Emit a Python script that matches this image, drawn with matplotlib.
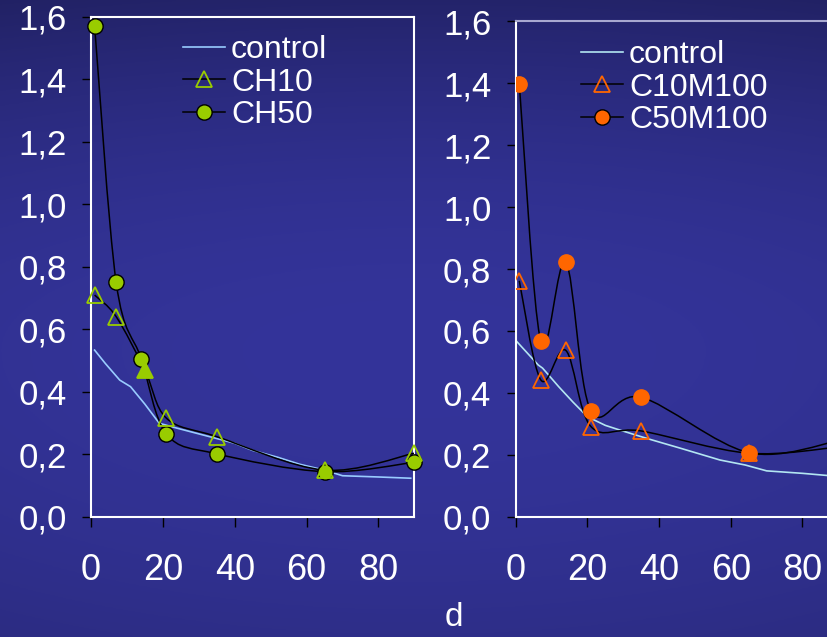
import numpy as np
import matplotlib.pyplot as plt
from matplotlib.path import Path
from matplotlib.patches import PathPatch
from matplotlib.lines import Line2D

plt.rcParams['font.family'] = ['Liberation Sans', 'DejaVu Sans']

# Data
days = [1, 7, 14, 21, 35, 65, 90]

ctrl_left_x = [1, 4, 8, 11, 15, 19, 24, 30, 35, 40, 45, 52, 58, 65, 70, 80, 89]
ctrl_left_y = [0.533, 0.49, 0.437, 0.416, 0.36, 0.299, 0.283, 0.265, 0.25, 0.235, 0.212, 0.19, 0.168, 0.149, 0.131, 0.127, 0.123]

ch10_x = [1, 7, 15, 21, 35, 65, 90]
ch10_y = [0.709, 0.64, 0.469, 0.315, 0.256, 0.149, 0.203]
ch10_filled = [False, False, True, False, False, False, False]
ch50_y = [1.571, 0.750, 0.505, 0.265, 0.201, 0.144, 0.174]

ctrl_right_x = [0.3, 6.3, 7.5, 12, 16, 20, 25, 29, 34, 38, 46, 57, 64, 70, 80, 90]
ctrl_right_y = [0.566, 0.490, 0.48, 0.42, 0.37, 0.323, 0.295, 0.28, 0.262, 0.248, 0.221, 0.183, 0.167, 0.148, 0.140, 0.130]

c10m100_y = [0.762, 0.442, 0.537, 0.291, 0.277, 0.205, 0.225]
c50m100_y = [1.399, 0.566, 0.822, 0.342, 0.386, 0.207, 0.245]

ytick_vals = [0.0, 0.2, 0.4, 0.6, 0.8, 1.0, 1.2, 1.4, 1.6]
ytick_labels = ["0,0", "0,2", "0,4", "0,6", "0,8", "1,0", "1,2", "1,4", "1,6"]
xtick_vals = [0, 20, 40, 60, 80]

GREEN = "#99cc00"
ORANGE = "#ff6600"
FS_Y = 25
FS_X = 26
FS_LEG = 23


def smooth_path(xs, ys):
    # Excel-like smoothed line: cubic bezier through the points
    p = np.column_stack([xs, ys]).astype(float)
    n = len(p)
    verts = [p[0]]
    codes = [Path.MOVETO]
    for i in range(n - 1):
        p0 = p[i - 1] if i > 0 else p[i]
        p3 = p[i + 2] if i + 2 < n else p[i + 1]
        c1 = p[i] + (p[i + 1] - p0) / 6.0
        c2 = p[i + 1] - (p3 - p[i]) / 6.0
        verts += [c1, c2, p[i + 1]]
        codes += [Path.CURVE4] * 3
    return Path(verts, codes)


def style_axes(ax, top_color):
    ax.set_facecolor("none")
    ax.set_xlim(0, 90)
    ax.set_ylim(0, 1.6)
    for s in ["left", "bottom", "right"]:
        ax.spines[s].set_color("white")
        ax.spines[s].set_linewidth(1.5)
    ax.spines["top"].set_color(top_color)
    ax.spines["top"].set_linewidth(1.5)
    ax.set_yticks(ytick_vals)
    ax.set_yticklabels(ytick_labels)
    ax.set_xticks(xtick_vals)
    ax.tick_params(axis="y", colors="black", labelcolor="white", labelsize=FS_Y,
                   length=6.5, width=1.0, pad=11)
    ax.tick_params(axis="x", colors="black", labelcolor="white", labelsize=FS_X,
                   length=7, width=1.0, pad=19)


fig = plt.figure(figsize=(8.28, 6.37), dpi=100)

# background gradient
bg = fig.add_axes([0, 0, 1, 1], zorder=-10)
yy, xx = np.mgrid[0:1:300j, 0:1:300j]
f = np.where(yy < 0.55, 1 - 2.7 * (yy - 0.55) ** 2, 1 - 1.5 * (yy - 0.55) ** 2)
f = f - 0.4 * (xx - 0.5) ** 2
dark = np.array([32, 32, 96]) / 255
light = np.array([52, 52, 154]) / 255
img = dark + (light - dark) * f[..., None]
bg.imshow(np.clip(img, 0, 1), aspect="auto", extent=[0, 1, 0, 1])
bg.axis("off")

# left panel
ax1 = fig.add_axes([0.1099, 0.1889, 0.3905, 0.785])
style_axes(ax1, "white")
ax1.plot(ctrl_left_x, ctrl_left_y, color="#99ccff", lw=1.2, zorder=2)
ax1.add_patch(PathPatch(smooth_path(ch10_x, ch10_y), fc="none", ec="black", lw=1.1, zorder=3))
ax1.add_patch(PathPatch(smooth_path(days, ch50_y), fc="none", ec="black", lw=1.1, zorder=3))
for x, y, filled in zip(ch10_x, ch10_y, ch10_filled):
    ax1.plot(x, y, marker="^", ms=12, mec=GREEN, mew=1.3,
             mfc=GREEN if filled else "none", ls="none", zorder=5, clip_on=False)
ax1.plot(days, ch50_y, marker="o", ms=11, mfc=GREEN, mec="black", mew=1.0,
         ls="none", zorder=4, clip_on=False)

h1 = [Line2D([], [], color="#99ccff", lw=1.2),
      Line2D([], [], color="black", lw=1.1, marker="^", ms=12, mfc="none", mec=GREEN, mew=1.3),
      Line2D([], [], color="black", lw=1.1, marker="o", ms=11, mfc=GREEN, mec="black")]
fig.legend(h1, ["control", "CH10", "CH50"], loc="upper left",
           bbox_to_anchor=(183 / 828, 1 - 35 / 637), frameon=False, fontsize=FS_LEG,
           labelcolor="white", handlelength=1.3, handletextpad=0.2,
           labelspacing=0.08, borderpad=0, borderaxespad=0)

# right panel
ax2 = fig.add_axes([0.6228, 0.1889, 0.3897, 0.7774])
style_axes(ax2, "#a8a8d0")
ax2.plot(ctrl_right_x, ctrl_right_y, color="#b3e6f2", lw=1.2, zorder=2)
ax2.add_patch(PathPatch(smooth_path(days, c10m100_y), fc="none", ec="black", lw=1.1, zorder=3))
ax2.add_patch(PathPatch(smooth_path(days, c50m100_y), fc="none", ec="black", lw=1.1, zorder=3))
ax2.plot(days, c10m100_y, marker="^", ms=12, mfc="none", mec=ORANGE, mew=1.3,
         ls="none", zorder=5)
ax2.plot(days, c50m100_y, marker="o", ms=11, mfc=ORANGE, mec=ORANGE,
         ls="none", zorder=4)

h2 = [Line2D([], [], color="#b3e6f2", lw=1.2),
      Line2D([], [], color="black", lw=1.1, marker="^", ms=12, mfc="none", mec=ORANGE, mew=1.3),
      Line2D([], [], color="black", lw=1.1, marker="o", ms=11, mfc=ORANGE, mec="black")]
fig.legend(h2, ["control", "C10M100", "C50M100"], loc="upper left",
           bbox_to_anchor=(581 / 828, 1 - 40 / 637), frameon=False, fontsize=FS_LEG,
           labelcolor="white", handlelength=1.3, handletextpad=0.2,
           labelspacing=0.08, borderpad=0, borderaxespad=0)

fig.text(454 / 828, 1 - 617 / 637, "d", color="white", fontsize=24,
         ha="center", va="center")

fig.savefig("out.png", dpi=100)
